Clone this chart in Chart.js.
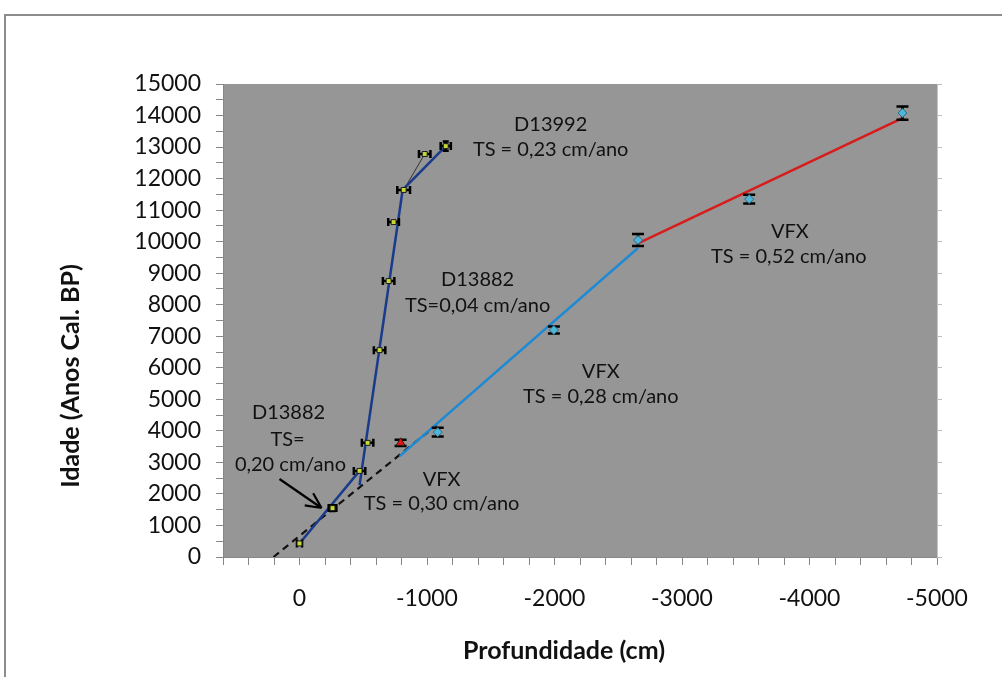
<!DOCTYPE html>
<html>
<head>
<meta charset="utf-8">
<script src="https://cdn.jsdelivr.net/npm/chart.js@4/dist/chart.umd.min.js"></script>
<style>
html,body{margin:0;padding:0;background:#fff;}
#c{display:block;}
</style>
</head>
<body>
<canvas id="c" width="1002" height="677"></canvas>
<script>
// ---- Data (depth in cm, age in cal. years BP) ----
const coreDepth    = [0, -259, -471, -534, -628, -699, -738, -817, -982, -1147];
const coreAge      = [430, 1550, 2730, 3620, 6560, 8750, 10620, 11640, 12780, 13030];
const coreDepthErr = [20, 30, 45, 45, 45, 45, 42, 50, 45, 40];
const coreAgeErr   = [0, 90, 0, 0, 0, 0, 0, 0, 0, 150];

const vfxDepth  = [-1084, -1995, -2655, -3527, -4729];
const vfxAge    = [3960, 7200, 10050, 11350, 14080];
const vfxAgeErr = [140, 110, 190, 140, 210];

const outlierDepth  = [-793];
const outlierAge    = [3620];
const outlierAgeErr = [100];

// Trend segments
const ts020Depth = [0, -471];        const ts020Age = [430, 2730];
const ts004Depth = [-471, -809];     const ts004Age = [2280, 11640];
const ts023Depth = [-809, -1147];    const ts023Age = [11640, 13030];
const linkDepth  = [-817, -982];     const linkAge  = [11640, 12780];
const ts030Depth = [204, -1076];     const ts030Age = [0, 4190];
const ts028Depth = [-786, -2655];    const ts028Age = [3200, 9800];
const ts052Depth = [-2647, -4729];   const ts052Age = [9930, 13920];

// Axis ticks
const xMin = -5000, xMax = 600, xStep = 200, xLabelEvery = 1000;
const yMin = 0, yMax = 15000, yStep = 500, yLabelEvery = 1000;

// Annotation texts with data anchor (depth, age)
const noteText  = ["D13992", "TS = 0,23 cm/ano", "D13882", "TS=0,04 cm/ano",
                   "VFX", "TS = 0,28 cm/ano", "VFX", "TS = 0,52 cm/ano",
                   "D13882", "TS=", "0,20 cm/ano", "VFX", "TS = 0,30 cm/ano"];
const noteDepth = [-1970, -1970, -1397, -1397, -2363, -2363, -3846, -3838, 86, 94, 71, -1115, -1115];
const noteAge   = [13730, 12910, 8785, 7990, 5867, 5074, 10307, 9515, 4567, 3711, 2918, 2442, 1681];
const arrowFrom = [157, 2474];
const arrowTo   = [-173, 1554];

const xTitle = "Profundidade (cm)";
const yTitle = "Idade (Anos Cal. BP)";

const pts = (xs, ys) => xs.map((x, i) => ({x: x, y: ys[i]}));

function lineDs(xs, ys, color, width, dash) {
  return {data: pts(xs, ys), showLine: true, borderColor: color, borderWidth: width,
          borderDash: dash || [], pointRadius: 0, pointHoverRadius: 0, fill: false};
}

const FONT = "Lato, 'Open Sans', sans-serif";

const errorBarPlugin = {
  id: 'errbars',
  beforeDatasetDraw(chart, args) {
    const ds = chart.data.datasets[args.index];
    if (!ds.err) return;
    const ctx = chart.ctx, xs = chart.scales.x, ys = chart.scales.y;
    ctx.save();
    ctx.strokeStyle = '#000';
    ctx.lineWidth = 2.5;
    ds.data.forEach((p, i) => {
      const px = xs.getPixelForValue(p.x), py = ys.getPixelForValue(p.y);
      const ex = ds.err.x ? ds.err.x[i] : 0, ey = ds.err.y ? ds.err.y[i] : 0;
      ctx.beginPath();
      if (ex) {
        const x1 = xs.getPixelForValue(p.x - ex), x2 = xs.getPixelForValue(p.x + ex);
        ctx.moveTo(x1, py); ctx.lineTo(x2, py);
        ctx.moveTo(x1, py - 4); ctx.lineTo(x1, py + 4);
        ctx.moveTo(x2, py - 4); ctx.lineTo(x2, py + 4);
      }
      if (ey) {
        const y1 = ys.getPixelForValue(p.y - ey), y2 = ys.getPixelForValue(p.y + ey);
        const cw = ex ? 3 : 6;
        ctx.moveTo(px, y1); ctx.lineTo(px, y2);
        ctx.moveTo(px - cw, y1); ctx.lineTo(px + cw, y1);
        ctx.moveTo(px - cw, y2); ctx.lineTo(px + cw, y2);
      }
      ctx.stroke();
    });
    ctx.restore();
  }
};

const decorPlugin = {
  id: 'decor',
  beforeDraw(chart) {
    const ctx = chart.ctx, a = chart.chartArea;
    ctx.save();
    ctx.fillStyle = '#ffffff';
    ctx.fillRect(0, 0, chart.width, chart.height);
    ctx.strokeStyle = '#8c8c8c';
    ctx.lineWidth = 2;
    ctx.strokeRect(5, 15, chart.width + 20, chart.height + 20);
    ctx.fillStyle = '#969696';
    ctx.fillRect(a.left, a.top, a.right - a.left, a.bottom - a.top);
    ctx.restore();
  },
  afterDatasetsDraw(chart) {
    const ctx = chart.ctx, xs = chart.scales.x, ys = chart.scales.y;
    ctx.save();
    ctx.fillStyle = '#111';
    ctx.font = "20px " + FONT;
    ctx.textAlign = 'center';
    ctx.textBaseline = 'middle';
    noteText.forEach((t, i) => {
      ctx.fillText(t, xs.getPixelForValue(noteDepth[i]), ys.getPixelForValue(noteAge[i]));
    });
    // arrow
    const x1 = xs.getPixelForValue(arrowFrom[0]), y1 = ys.getPixelForValue(arrowFrom[1]);
    const x2 = xs.getPixelForValue(arrowTo[0]), y2 = ys.getPixelForValue(arrowTo[1]);
    const ang = Math.atan2(y2 - y1, x2 - x1), h = 17;
    ctx.strokeStyle = '#000';
    ctx.lineWidth = 2.2;
    ctx.beginPath();
    ctx.moveTo(x1, y1); ctx.lineTo(x2, y2);
    ctx.moveTo(x2, y2); ctx.lineTo(x2 - h * Math.cos(ang - 0.45), y2 - h * Math.sin(ang - 0.45));
    ctx.moveTo(x2, y2); ctx.lineTo(x2 - h * Math.cos(ang + 0.45), y2 - h * Math.sin(ang + 0.45));
    ctx.stroke();
    ctx.restore();
  },
  afterDraw(chart) {
    const ctx = chart.ctx;
    ctx.save();
    ctx.fillStyle = '#111';
    ctx.font = "bold 25px " + FONT;
    ctx.textAlign = 'center';
    ctx.textBaseline = 'middle';
    ctx.fillText(xTitle, 564, 651);
    ctx.translate(71, 376);
    ctx.rotate(-Math.PI / 2);
    ctx.fillText(yTitle, 0, 0);
    ctx.restore();
  }
};

const tickColor = '#888888';

new Chart(document.getElementById('c'), {
  type: 'scatter',
  data: {
    datasets: [
      {data: pts(outlierDepth, outlierAge), err: {y: outlierAgeErr}, pointStyle: 'triangle',
       pointRadius: 5, backgroundColor: '#ee1111', borderColor: '#222', borderWidth: 1},
      {data: pts(vfxDepth, vfxAge), err: {y: vfxAgeErr}, pointStyle: 'rectRot',
       pointRadius: 4.5, backgroundColor: '#4fb6da', borderColor: '#2b6e88', borderWidth: 1},
      {data: pts(coreDepth, coreAge), err: {x: coreDepthErr, y: coreAgeErr}, pointStyle: 'rect',
       pointRadius: 3.5, backgroundColor: '#c6d935', borderColor: '#1b1b1b', borderWidth: 1},
      lineDs(ts020Depth, ts020Age, '#1a3a8c', 2.5),
      lineDs(ts004Depth, ts004Age, '#1a3a8c', 2.5),
      lineDs(ts023Depth, ts023Age, '#1a3a8c', 2.5),
      lineDs(linkDepth, linkAge, '#333333', 1),
      lineDs(ts052Depth, ts052Age, '#d81c1c', 2.5),
      lineDs(ts028Depth, ts028Age, '#1d8ad6', 2.5),
      lineDs(ts030Depth, ts030Age, '#111111', 2.2, [7, 5])
    ]
  },
  options: {
    responsive: false,
    animation: false,
    devicePixelRatio: 1,
    layout: {padding: {top: 84, left: 0, right: 0, bottom: 0}},
    plugins: {legend: {display: false}, tooltip: {enabled: false}},
    scales: {
      x: {
        type: 'linear', reverse: true, min: xMin, max: xMax,
        afterFit: s => { s.height = 120; },
        afterBuildTicks: s => {
          const t = [];
          for (let v = xMin; v <= xMax; v += xStep) t.push({value: v});
          s.ticks = t;
        },
        ticks: {
          autoSkip: false, maxRotation: 0, padding: 20, color: '#111',
          font: {family: FONT, size: 23},
          callback: v => (v % xLabelEvery === 0 ? String(v) : '')
        },
        grid: {drawOnChartArea: false, drawTicks: true, tickLength: 8, color: tickColor},
        border: {display: true, color: tickColor, width: 1}
      },
      y: {
        type: 'linear', position: 'left', min: yMin, max: yMax,
        afterFit: s => { s.width = 223; },
        afterBuildTicks: s => {
          const t = [];
          for (let v = yMin; v <= yMax; v += yStep) t.push({value: v});
          s.ticks = t;
        },
        ticks: {
          autoSkip: false, padding: 15, color: '#111',
          font: {family: FONT, size: 23},
          callback: v => (v % yLabelEvery === 0 ? String(v) : '')
        },
        grid: {drawOnChartArea: false, drawTicks: true, tickLength: 7, color: tickColor},
        border: {display: true, color: tickColor, width: 1}
      },
      y2: {
        type: 'linear', position: 'right', min: yMin, max: yMax,
        afterFit: s => { s.width = 65; },
        afterBuildTicks: s => {
          const t = [];
          for (let v = yMin; v <= yMax; v += yLabelEvery) t.push({value: v});
          s.ticks = t;
        },
        ticks: {display: false},
        grid: {drawOnChartArea: false, drawTicks: true, tickLength: 5, color: '#bdbdbd'},
        border: {display: true, color: '#c4c4c4', width: 1}
      }
    }
  },
  plugins: [decorPlugin, errorBarPlugin]
});
</script>
</body>
</html>
